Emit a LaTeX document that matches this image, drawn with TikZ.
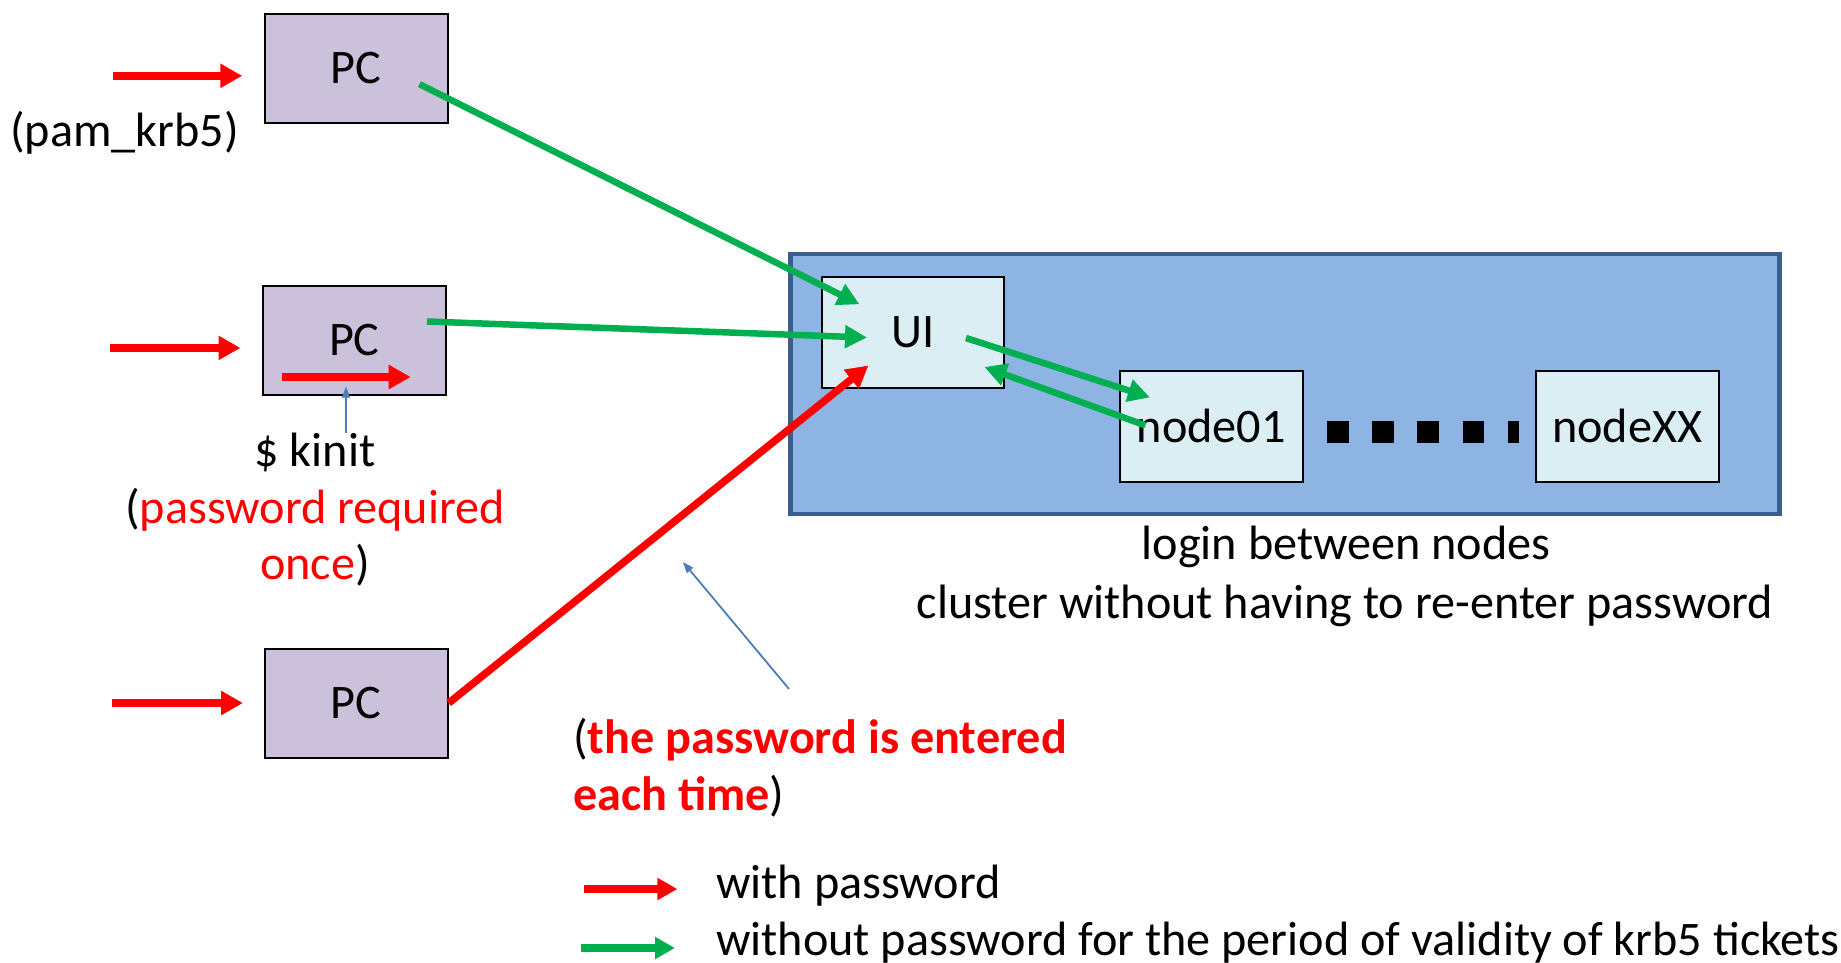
\documentclass[tikz,border=0pt]{standalone}
\usepackage{fontspec}
\setmainfont{Carlito}
\usetikzlibrary{arrows.meta}
\definecolor{pcfill}{HTML}{CCC1DA}
\definecolor{nodefill}{HTML}{DBEEF4}
\definecolor{clusterfill}{HTML}{8EB4E3}
\definecolor{clusterdraw}{HTML}{3B5F8C}
\definecolor{myred}{HTML}{FF0000}
\definecolor{mygreen}{HTML}{00B050}
\definecolor{myblue}{HTML}{4A7EBB}
\begin{document}
\begin{tikzpicture}[x=1pt,y=-1pt,
  every node/.style={font=\fontsize{48.2}{57}\selectfont},
  pcbox/.style={draw=black, line width=2pt, fill=pcfill, minimum width=183pt, minimum height=109pt, inner sep=0pt},
  hostbox/.style={draw=black, line width=2pt, fill=nodefill, minimum width=183pt, minimum height=111pt, inner sep=0pt},
  txt/.style={inner sep=0pt, anchor=base},
  ltxt/.style={inner sep=0pt, anchor=base west},
  redarrow/.style={draw=myred, line width=7.5pt, -{Triangle[length=22pt,width=23pt]}},
  greenarrow/.style={draw=mygreen, line width=6.5pt, -{Triangle[length=22pt,width=22pt]}},
  bluearrow/.style={draw=myblue, line width=1.8pt, -{Triangle[length=11pt,width=8pt]}},
]
\useasboundingbox (0,0) rectangle (1841,963);

% cluster
\node[draw=clusterdraw, line width=4.5pt, fill=clusterfill, minimum width=989pt, minimum height=260pt, inner sep=0pt] (cluster) at (1284.8,384.2) {};

% boxes
\node[pcbox] (pc1) at (356.1,68.1) {PC};
\node[pcbox] (pc2) at (354.3,340) {PC};
\node[pcbox] (pc3) at (356.2,703) {PC};
\node[hostbox, minimum width=182pt] (ui) at (912.6,332.5) {UI};
\node[hostbox] (node01) at (1211.4,426.1) {node01};
\node[hostbox] (nodexx) at (1627.2,426.1) {nodeXX};

% dots
\coordinate (dotsA) at (1326.8,432);
\coordinate (dotsB) at (1519,432);
\draw[line width=22pt, dash pattern=on 21.7pt off 23.6pt] (dotsA) -- (dotsB);

% texts
\node[txt] (pam) at (124.6,146.5) {(pam\_krb5)};
\node[txt] (kinit) at (315,466) {\$ kinit};
\node[txt] (pwreq1) at (315,523.5) {(\textcolor{myred}{password required}};
\node[txt] (pwreq2) at (315,579.8) {\textcolor{myred}{once})};
\node[txt] (login1) at (1346,559.8) {login between nodes};
\node[txt] (login2) at (1345,618.3) {cluster without having to re-enter password};
\node[ltxt] (each1) at (573,753) {(\textcolor{myred}{\bfseries the password is entered}};
\node[ltxt] (each2) at (573,810) {\textcolor{myred}{\bfseries each time})};
\node[ltxt] (leg1) at (716,898) {with password};
\node[ltxt] (leg2) at (716,955.5) {without password for the period of validity of krb5 tickets};

% coordinates for arrow ends
\coordinate (r1s) at (112.6,75.8);
\coordinate (r1e) at (242.3,75.8);
\coordinate (r2s) at (110,347.9);
\coordinate (r2e) at (240.5,347.9);
\coordinate (r3s) at (111.5,703);
\coordinate (r3e) at (243,703);
\coordinate (ks) at (281.6,377);
\coordinate (ke) at (410.7,377);
\coordinate (b1s) at (346,433);
\coordinate (b1e) at (346,386.5);
\coordinate (b2s) at (789,689);
\coordinate (b2e) at (683,562);
\coordinate (g1s) at (419.5,84.2);
\coordinate (g1e) at (859.5,304.3);
\coordinate (g2s) at (427,321.5);
\coordinate (g2e) at (867,337.5);
\coordinate (r4e) at (868.4,365.5);
\coordinate (g3s) at (966,338);
\coordinate (g3e) at (1150,397.4);
\coordinate (g4s) at (1145.4,425.4);
\coordinate (g4e) at (984.4,367);
\coordinate (lrs) at (583.5,889);
\coordinate (lre) at (677.4,889);
\coordinate (lgs) at (581,948);
\coordinate (lge) at (675,948);

% arrows
\draw[redarrow] (r1s) -- (r1e);
\draw[redarrow] (r2s) -- (r2e);
\draw[redarrow] (r3s) -- (r3e);
\draw[redarrow] (ks) -- (ke);
\draw[bluearrow] (b1s) -- (b1e);
\draw[bluearrow] (b2s) -- (b2e);
\draw[greenarrow] (g1s) -- (g1e);
\draw[greenarrow] (g2s) -- (g2e);
\draw[redarrow] (pc3.east) -- (r4e);
\draw[greenarrow] (g3s) -- (g3e);
\draw[greenarrow] (g4s) -- (g4e);
\draw[redarrow, line width=8pt, -{Triangle[length=20pt,width=21pt]}] (lrs) -- (lre);
\draw[greenarrow, line width=8pt, -{Triangle[length=20pt,width=21pt]}] (lgs) -- (lge);
\end{tikzpicture}
\end{document}
